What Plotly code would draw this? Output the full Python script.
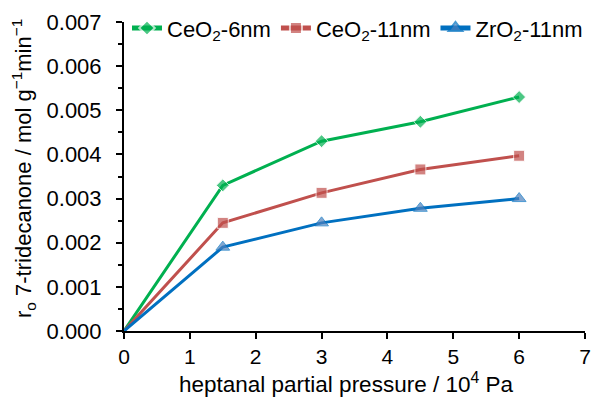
import plotly.graph_objects as go

pressure = [0, 1.5, 3, 4.5, 6]
ceo2_6nm = [0, 0.0033, 0.0043, 0.00474, 0.0053]
ceo2_11nm = [0, 0.00245, 0.00313, 0.00366, 0.00397]
zro2_11nm = [0, 0.0019, 0.00245, 0.00278, 0.0030]

x_title = "heptanal partial pressure / 10<sup>4</sup> Pa"
y_title = "r<sub>o</sub> 7-tridecanone / mol g<sup>−1</sup>min<sup>−1</sup>"

series = [
    ("CeO<sub>2</sub>-6nm", ceo2_6nm, "#00B050", "#00B050", "diamond", 10),
    ("CeO<sub>2</sub>-11nm", ceo2_11nm, "#C0504D", "#C0504D", "square", 11),
    ("ZrO<sub>2</sub>-11nm", zro2_11nm, "#0070C0", "#4F81BD", "triangle-up", 12),
]

fig = go.Figure()
for name, ys, lc, mc, sym, ms in series:
    sizes = [0] + [ms] * (len(ys) - 1)
    fig.add_trace(go.Scatter(
        x=pressure, y=ys, name=name, mode="lines+markers",
        line=dict(color=lc, width=3),
        marker=dict(color=mc, symbol=sym, size=sizes),
        cliponaxis=False,
    ))

fig.update_layout(
    width=604, height=398,
    margin=dict(l=116, r=27, t=14, b=75, autoexpand=False),
    paper_bgcolor="white", plot_bgcolor="white",
    font=dict(family="Liberation Sans, Arial, sans-serif", size=21, color="black"),
    showlegend=True,
    legend=dict(orientation="h", x=0.0065, y=0.98, xanchor="left", yanchor="middle",
                font=dict(size=22), bgcolor="rgba(0,0,0,0)", itemsizing="constant"),
    xaxis=dict(range=[0, 7], dtick=1, showline=True, linecolor="black", linewidth=2,
               ticks="outside", ticklen=6, tickwidth=1.5, tickcolor="black",
               showgrid=False, zeroline=False, automargin=False,
               tickfont=dict(size=21)),
    yaxis=dict(range=[0, 0.007], dtick=0.001, tickformat=".3f", showline=True,
               linecolor="black", linewidth=2, ticks="outside", ticklen=6, tickwidth=1.5,
               tickcolor="black", showgrid=False, zeroline=False, automargin=False,
               tickfont=dict(size=22), ticklabelstandoff=10,
               minor=dict(dtick=0.0005, ticks="outside", ticklen=4, tickcolor="black", showgrid=False)),
    annotations=[
        dict(text=x_title, xref="paper", yref="paper", x=0.4816, y=-0.168,
             xanchor="center", yanchor="middle", showarrow=False, font=dict(size=22.5)),
        dict(text=y_title, xref="paper", yref="paper", x=-0.218, y=0.526,
             xanchor="center", yanchor="middle", showarrow=False, textangle=-90,
             font=dict(size=22)),
    ],
)
fig.write_html("out.html")
